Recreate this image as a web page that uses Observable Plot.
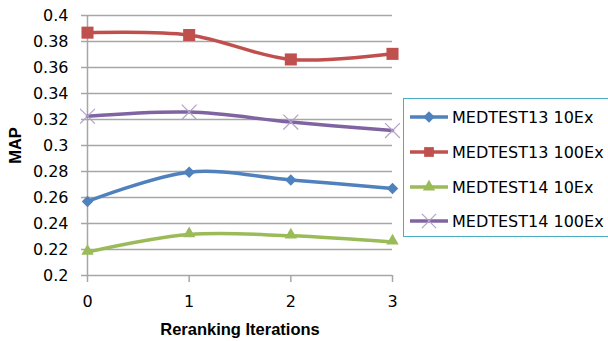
<!DOCTYPE html>
<html>
<head>
<meta charset="utf-8">
<script src="https://cdn.jsdelivr.net/npm/d3@7"></script>
<script src="https://cdn.jsdelivr.net/npm/@observablehq/plot@0.6"></script>
<style>
  html, body { margin: 0; padding: 0; background: #fff; }
  #wrap { position: relative; width: 608px; height: 341px; overflow: hidden; font-family: "DejaVu Sans", sans-serif; }
  #legend { position: absolute; left: 403px; top: 98px; width: 240px; height: 139px; border: 1px solid #4bacc6; background: #fff; box-sizing: border-box; }
  .item { position: absolute; left: 0; height: 20px; display: flex; align-items: center; font-size: 16px; color: #000; white-space: nowrap; }
  .item svg { margin-left: 6px; margin-right: 4px; }
</style>
</head>
<body>
<div id="wrap"><div id="chart"></div><div id="legend"></div></div>
<script>
const iterations = [0, 1, 2, 3];
const seriesNames = ["MEDTEST13 10Ex", "MEDTEST13 100Ex", "MEDTEST14 10Ex", "MEDTEST14 100Ex"];
const med13_10 = [0.257, 0.2795, 0.2735, 0.267];
const med13_100 = [0.3868, 0.385, 0.3662, 0.3705];
const med14_10 = [0.218, 0.2315, 0.2305, 0.2258];
const med14_100 = [0.3225, 0.3257, 0.318, 0.3115];
const yTicks = [0.2, 0.22, 0.24, 0.26, 0.28, 0.3, 0.32, 0.34, 0.36, 0.38, 0.4];
const xTicks = [0, 1, 2, 3];
const colors = ["#4f81bd", "#c0504d", "#9bbb59", "#8064a2"];
const xLabel = "Reranking Iterations";
const yLabel = "MAP";

const allValues = [med13_10, med13_100, med14_10, med14_100];
const data = [];
seriesNames.forEach((s, i) => iterations.forEach((it, j) => data.push({series: s, x: it, y: allValues[i][j]})));
const bySeries = s => data.filter(d => d.series === s);

const grid = "#a6a6a6";
const chart = Plot.plot({
  width: 608, height: 341,
  marginLeft: 87, marginRight: 216, marginTop: 15, marginBottom: 66,
  style: {fontFamily: "DejaVu Sans, sans-serif", fontSize: "16px", color: "#000", background: "transparent"},
  x: {domain: [0, 3]},
  y: {domain: [0.2, 0.4]},
  color: {domain: seriesNames, range: colors},
  marks: [
    Plot.gridY(yTicks, {stroke: grid, strokeOpacity: 1, strokeWidth: 1.5}),
    Plot.ruleX([0], {stroke: grid, strokeWidth: 1.5}),
    Plot.axisY(yTicks, {tickSize: 6, tickPadding: 13, stroke: grid, strokeWidth: 1.5, tickFormat: d => String(+d.toFixed(2)), label: null, fill: "#000"}),
    Plot.axisX(xTicks, {tickSize: 7, tickPadding: 13, stroke: grid, strokeWidth: 1.5, tickFormat: d => String(d), label: null, fill: "#000"}),
    Plot.line(data, {x: "x", y: "y", z: "series", stroke: "series", strokeWidth: 3.5, curve: "catmull-rom"}),
    Plot.dot(bySeries(seriesNames[0]), {x: "x", y: "y", symbol: "square", rotate: 45, r: 4.6, fill: colors[0], stroke: "none"}),
    Plot.dot(bySeries(seriesNames[1]), {x: "x", y: "y", symbol: "square", r: 6.8, fill: colors[1], stroke: "none"}),
    Plot.dot(bySeries(seriesNames[2]), {x: "x", y: "y", symbol: "triangle", r: 4.6, fill: colors[2], stroke: "none", dy: -1}),
    Plot.dot(bySeries(seriesNames[3]), {x: "x", y: "y", symbol: "times", r: 6.8, stroke: "#b3a2c7", strokeWidth: 1.2, fill: "none"}),
    Plot.text([xLabel], {frameAnchor: "bottom", dy: 59, fontWeight: "bold", fontSize: 16.5, fontFamily: "Liberation Sans, Arial, sans-serif", fill: "#000"}),
    Plot.text([yLabel], {frameAnchor: "left", dx: -72, rotate: -90, textAnchor: "middle", fontWeight: "bold", fontSize: 16.5, fontFamily: "Liberation Sans, Arial, sans-serif", fill: "#000"})
  ]
});
document.getElementById("chart").appendChild(chart);

// legend
const legend = d3.select("#legend");
const tops = [8, 43, 78, 112];
const symbolPaths = [
  d3.symbol(d3.symbolSquare, Math.PI * 4.6 * 4.6)(),
  d3.symbol(d3.symbolSquare, Math.PI * 5.5 * 5.5)(),
  d3.symbol(d3.symbolTriangle, Math.PI * 4.6 * 4.6)(),
  d3.symbol(d3.symbolTimes, Math.PI * 6.5 * 6.5)()
];
seriesNames.forEach((s, i) => {
  const item = legend.append("div").attr("class", "item").style("top", tops[i] + "px");
  const svg = item.append("svg").attr("width", 38).attr("height", 20);
  svg.append("line").attr("x1", 0).attr("x2", 38).attr("y1", 10).attr("y2", 10).attr("stroke", colors[i]).attr("stroke-width", 3.5);
  const p = svg.append("path").attr("d", symbolPaths[i]);
  if (i === 0) p.attr("transform", "translate(19,10) rotate(45)").attr("fill", colors[i]);
  else if (i === 3) p.attr("transform", "translate(19,10)").attr("fill", "none").attr("stroke", "#b3a2c7").attr("stroke-width", 1.2);
  else p.attr("transform", "translate(19,10)").attr("fill", colors[i]);
  item.append("span").text(s);
});
</script>
</body>
</html>
